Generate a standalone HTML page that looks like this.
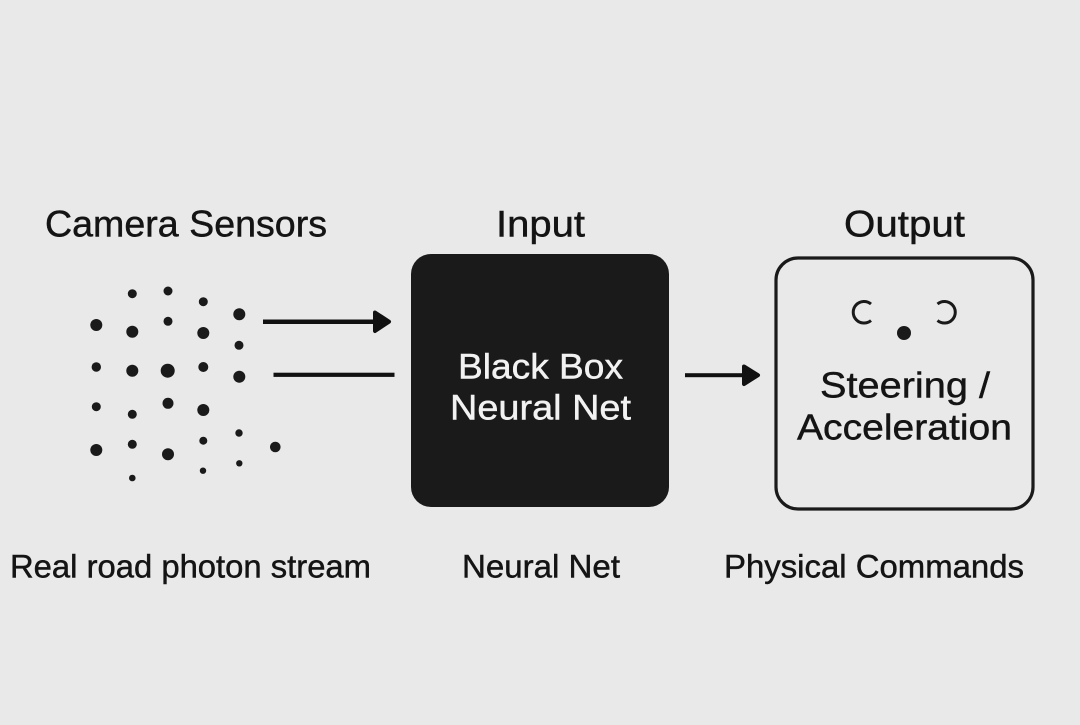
<!DOCTYPE html>
<html><head><meta charset="utf-8"><style>
html,body{margin:0;padding:0;background:#e9e9e9}
svg{display:block}
text{font-family:"Liberation Sans",sans-serif;fill:#141414;font-size:37px;text-anchor:start;stroke:#141414;stroke-width:.45px}
</style></head><body>
<svg width="1080" height="725" viewBox="0 0 1080 725" xmlns="http://www.w3.org/2000/svg">
<rect width="1080" height="725" fill="#e9e9e9"/>
<text x="45" y="236.5" textLength="282" lengthAdjust="spacingAndGlyphs">Camera Sensors</text>
<text x="496" y="236.5" textLength="89" lengthAdjust="spacingAndGlyphs">Input</text>
<text x="844" y="236.5" textLength="121" lengthAdjust="spacingAndGlyphs">Output</text>
<g fill="#1a1a1a">
<circle cx="132.3" cy="293.7" r="4.5"/><circle cx="168" cy="291" r="4.5"/><circle cx="203.3" cy="301.7" r="4.5"/><circle cx="239.3" cy="314.3" r="6"/>
<circle cx="96.3" cy="325" r="6"/><circle cx="132.3" cy="331.7" r="6"/><circle cx="168" cy="321.3" r="4.5"/><circle cx="203.3" cy="333" r="6"/><circle cx="239" cy="345.3" r="4.5"/>
<circle cx="96.3" cy="367" r="4.7"/><circle cx="132.3" cy="370.7" r="6"/><circle cx="167.7" cy="370.7" r="7"/><circle cx="203.3" cy="367" r="5"/><circle cx="239.3" cy="376.7" r="6"/>
<circle cx="96.3" cy="406.7" r="4.5"/><circle cx="132.3" cy="414.3" r="4.5"/><circle cx="168" cy="403.3" r="5.5"/><circle cx="203.3" cy="410" r="6"/>
<circle cx="96.3" cy="450" r="6"/><circle cx="132.3" cy="444.3" r="4.5"/><circle cx="168" cy="454.3" r="6"/><circle cx="203.3" cy="440.7" r="4"/><circle cx="239" cy="433" r="3.7"/><circle cx="275.3" cy="447" r="5.3"/>
<circle cx="132.3" cy="478" r="3.3"/><circle cx="203" cy="470.7" r="3.2"/><circle cx="239.3" cy="463.3" r="3.2"/>
</g>
<rect x="263" y="319.5" width="112" height="4.5" fill="#111"/>
<path d="M375 312.5 L389 321.7 L375 331 Z" fill="#111" stroke="#111" stroke-width="4" stroke-linejoin="round"/>
<rect x="273.5" y="372.7" width="121" height="4.2" fill="#111"/>
<rect x="411" y="254" width="258" height="253" rx="20" fill="#1a1a1a"/>
<text x="458" y="378.5" textLength="165" lengthAdjust="spacingAndGlyphs" style="fill:#f2f2f2;stroke:#f2f2f2;font-size:35px">Black Box</text>
<text x="450" y="419.5" textLength="181" lengthAdjust="spacingAndGlyphs" style="fill:#f2f2f2;stroke:#f2f2f2;font-size:35px">Neural Net</text>
<rect x="685" y="373.2" width="60" height="4" fill="#111"/>
<path d="M744 366.5 L758 375.2 L744 384 Z" fill="#111" stroke="#111" stroke-width="4" stroke-linejoin="round"/>
<rect x="776" y="258" width="257" height="251" rx="22" fill="none" stroke="#1a1a1a" stroke-width="3.2"/>
<path d="M871 304 A10.8 10.8 0 1 0 871 320.5" fill="none" stroke="#1a1a1a" stroke-width="3"/>
<path d="M937.5 304 A10.8 10.8 0 1 1 937.5 320.5" fill="none" stroke="#1a1a1a" stroke-width="3"/>
<circle cx="904" cy="333" r="7" fill="#1a1a1a"/>
<text x="820" y="397.5" textLength="170" lengthAdjust="spacingAndGlyphs" style="font-size:36px">Steering /</text>
<text x="797" y="439.5" textLength="215" lengthAdjust="spacingAndGlyphs" style="font-size:36px">Acceleration</text>
<text x="10" y="577.5" textLength="361" lengthAdjust="spacingAndGlyphs" style="font-size:32px">Real road photon stream</text>
<text x="462" y="577.5" textLength="158" lengthAdjust="spacingAndGlyphs" style="font-size:32px">Neural Net</text>
<text x="724" y="577.5" textLength="300" lengthAdjust="spacingAndGlyphs" style="font-size:32px">Physical Commands</text>
</svg>
</body></html>
